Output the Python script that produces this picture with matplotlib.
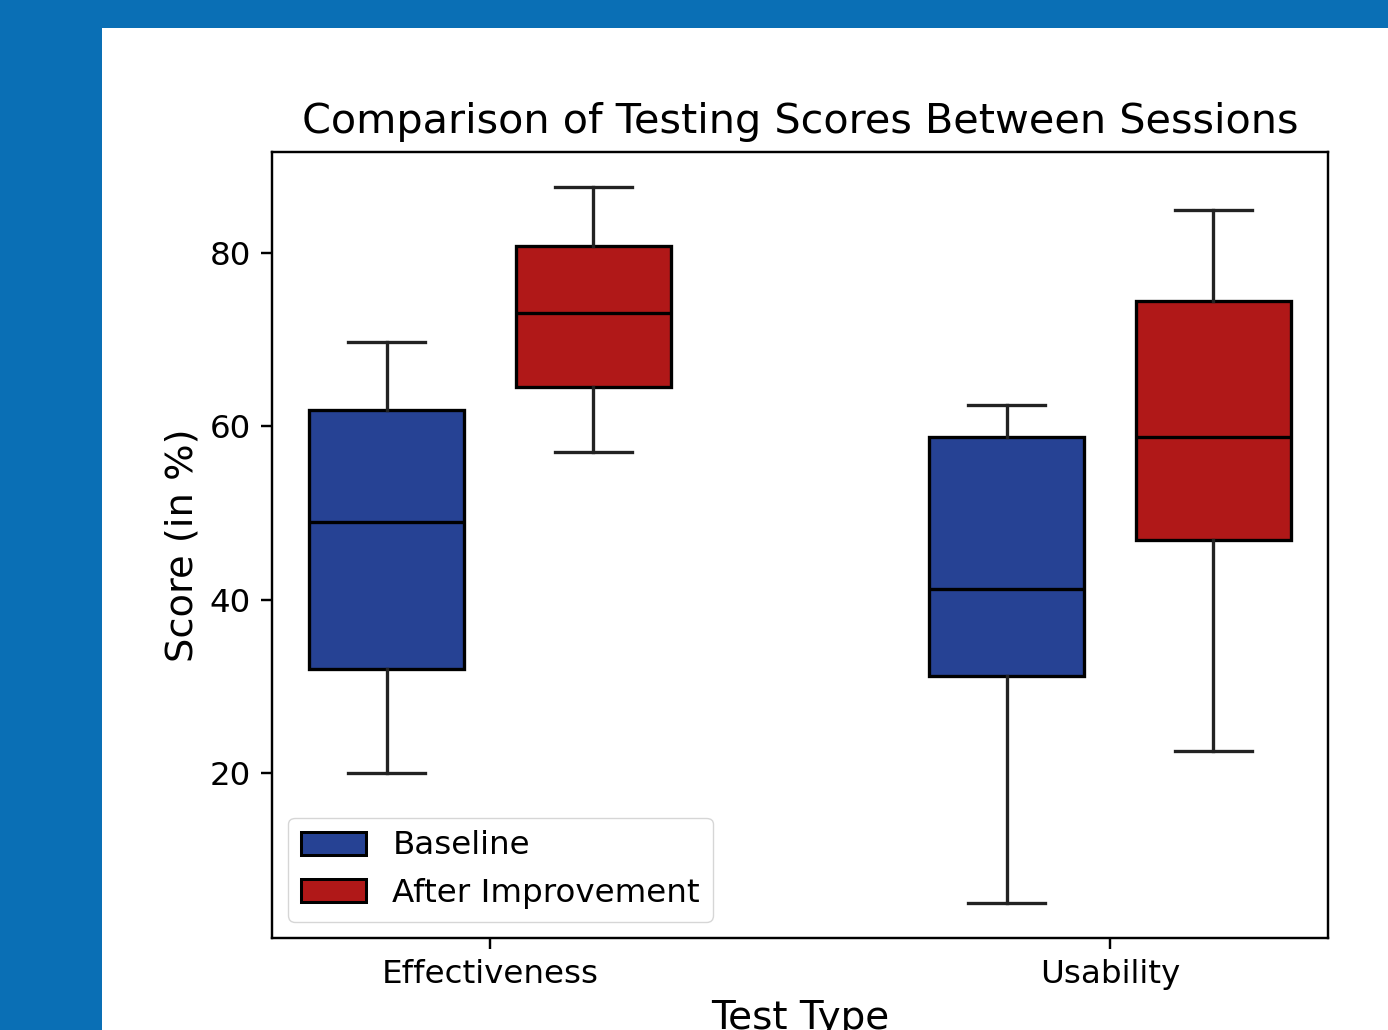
import matplotlib.pyplot as plt
from matplotlib.patches import Patch, Rectangle

categories = ['Effectiveness', 'Usability']
groups = ['Baseline', 'After Improvement']
colors = ['#264294', '#b01818']

# box stats: [Effectiveness, Usability]
whislo = {'Baseline': [20.0, 5.0], 'After Improvement': [57.0, 22.5]}
q1 = {'Baseline': [32.0, 31.2], 'After Improvement': [64.5, 46.9]}
med = {'Baseline': [49.0, 41.2], 'After Improvement': [73.1, 58.8]}
q3 = {'Baseline': [61.9, 58.8], 'After Improvement': [80.8, 74.5]}
whishi = {'Baseline': [69.7, 62.5], 'After Improvement': [87.6, 85.0]}

fig = plt.figure(figsize=(13.88, 10.3), dpi=100)
fig.patch.set_facecolor('#0a6fb5')
fig.patches.append(Rectangle((102 / 1388, 0), 1, (1030 - 28) / 1030,
                             transform=fig.transFigure, facecolor='white',
                             edgecolor='none', zorder=-10))

ax = fig.add_axes([272 / 1388, (1030 - 938) / 1030,
                   (1328 - 272) / 1388, (938 - 152) / 1030])

s = 2.17
offsets = [-1 / 6, 1 / 6]
for g, grp in enumerate(groups):
    stats = []
    for i in range(len(categories)):
        stats.append(dict(whislo=whislo[grp][i], q1=q1[grp][i], med=med[grp][i],
                          q3=q3[grp][i], whishi=whishi[grp][i], fliers=[]))
    pos = [i + offsets[g] for i in range(len(categories))]
    ax.bxp(stats, positions=pos, widths=0.25, patch_artist=True, showfliers=False,
           manage_ticks=False,
           boxprops=dict(facecolor=colors[g], edgecolor='black', linewidth=1.1 * s),
           medianprops=dict(color='black', linewidth=1.1 * s),
           whiskerprops=dict(color='#222222', linewidth=1.1 * s),
           capprops=dict(color='#222222', linewidth=1.1 * s))

ax.set_xticks(range(len(categories)))
ax.set_xticklabels(categories)
ax.set_xlim(-0.3516, 1.3516)
ax.set_ylim(0.96, 91.65)
ax.set_yticks([20, 40, 60, 80])
ax.tick_params(labelsize=23.4, length=3.5 * s, width=0.8 * s, pad=3.5 * s)
for sp in ax.spines.values():
    sp.set_linewidth(0.8 * s)

ax.set_title('Comparison of Testing Scores Between Sessions', fontsize=29.8, pad=14)
ax.set_xlabel('Test Type', fontsize=28, labelpad=3 * s)
ax.set_ylabel('Score (in %)', fontsize=27.6, labelpad=3 * s)

handles = [Patch(facecolor=colors[g], edgecolor='black', linewidth=1.0 * s, label=grp)
           for g, grp in enumerate(groups)]
ax.legend(handles=handles, loc='lower left', fontsize=23.4)

fig.savefig('out.png', dpi=100, facecolor=fig.get_facecolor())
